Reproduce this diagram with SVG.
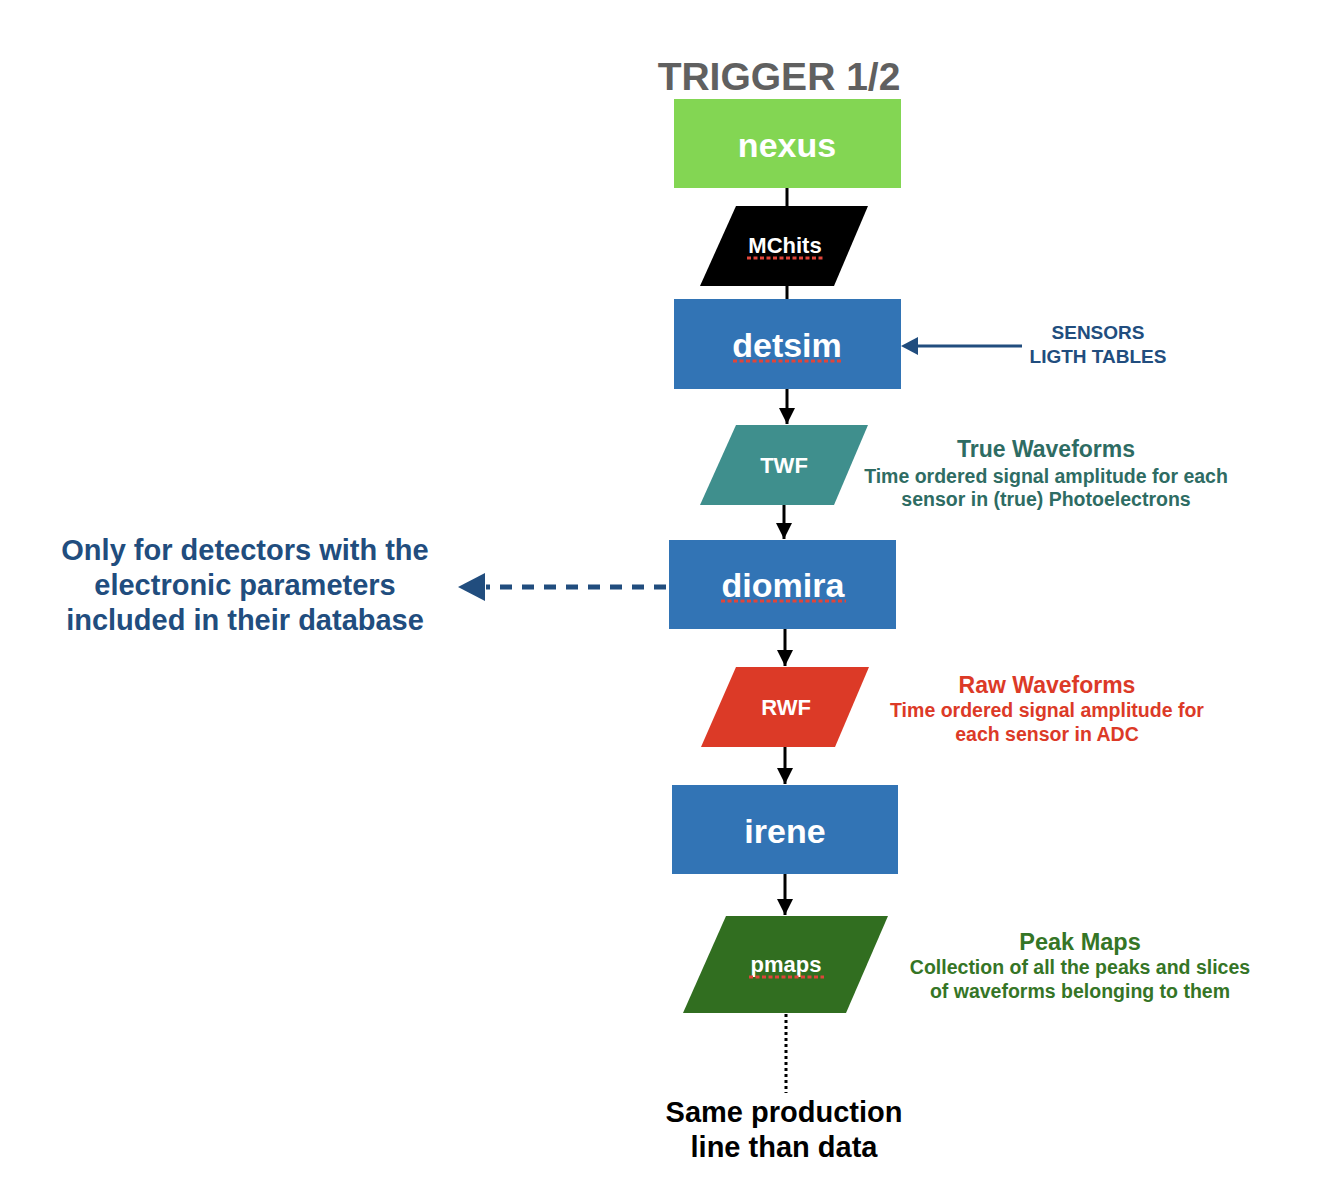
<svg xmlns="http://www.w3.org/2000/svg" width="1338" height="1196" viewBox="0 0 1338 1196">
  <style>
    text { font-family: "Liberation Sans", Arial, Helvetica, sans-serif; font-weight: bold; text-anchor: middle; }
    .proc { fill: #3274b5; }
    .label { fill: #ffffff; }
    .big { font-size: 34px; }
    .small { font-size: 22px; }
    .wire { stroke: #000000; stroke-width: 3; fill: none; }
    .squiggle { stroke: #e0453a; stroke-width: 3; stroke-dasharray: 4 2.5; fill: none; }
    .navy { fill: #214d7e; }
  </style>
  <defs>
    <marker id="arrow-black" viewBox="0 0 10 10" refX="10" refY="5" markerWidth="5.5" markerHeight="5.5" markerUnits="strokeWidth" orient="auto">
      <path d="M0,0 L10,5 L0,10 Z" fill="#000000"/>
    </marker>
  </defs>
  <rect width="1338" height="1196" fill="#ffffff"/>

  <!-- title -->
  <text x="779" y="90" font-size="39" fill="#606060">TRIGGER 1/2</text>

  <!-- connectors -->
  <g id="connectors">
    <line class="wire" x1="787" y1="188" x2="787" y2="206"/>
    <line class="wire" x1="787" y1="286" x2="787" y2="299"/>
    <line class="wire" x1="787" y1="389" x2="787" y2="424" marker-end="url(#arrow-black)"/>
    <line class="wire" x1="784" y1="505" x2="784" y2="539" marker-end="url(#arrow-black)"/>
    <line class="wire" x1="785" y1="629" x2="785" y2="666" marker-end="url(#arrow-black)"/>
    <line class="wire" x1="785" y1="747" x2="785" y2="784" marker-end="url(#arrow-black)"/>
    <line class="wire" x1="785" y1="874" x2="785" y2="915" marker-end="url(#arrow-black)"/>
    <!-- sensors / light tables input -->
    <line x1="1022" y1="346" x2="915" y2="346" stroke="#214d7e" stroke-width="3"/>
    <path d="M901,346 L918,337 L918,355 Z" fill="#214d7e"/>
    <!-- dashed link to the electronic-parameters note -->
    <line x1="666" y1="587" x2="486" y2="587" stroke="#214d7e" stroke-width="5" stroke-dasharray="12 10"/>
    <path d="M458,587 L485,573 L485,601 Z" fill="#214d7e"/>
    <!-- dotted continuation below pmaps -->
    <line x1="786" y1="1014" x2="786" y2="1093" stroke="#000000" stroke-width="3" stroke-dasharray="3 3"/>
  </g>

  <g id="nexus">
    <rect x="674" y="99" width="227" height="89" fill="#83d653"/>
    <text class="label big" x="787" y="157">nexus</text>
  </g>

  <g id="mchits">
    <polygon points="736,206 868,206 834,286 700,286" fill="#000000"/>
    <text class="label small" x="785" y="253">MChits</text>
    <line class="squiggle" x1="747" y1="258" x2="823" y2="258"/>
  </g>

  <g id="detsim">
    <rect class="proc" x="674" y="299" width="227" height="90"/>
    <text class="label big" x="787" y="357">detsim</text>
    <line class="squiggle" x1="733" y1="361" x2="842" y2="361"/>
  </g>

  <g id="sensors">
    <text class="navy" x="1098" y="339" font-size="19">SENSORS</text>
    <text class="navy" x="1098" y="363" font-size="19">LIGTH TABLES</text>
  </g>

  <g id="twf">
    <polygon points="736,425 868,425 834,505 700,505" fill="#3f8f8d"/>
    <text class="label small" x="784" y="473">TWF</text>
  </g>

  <g id="twf-note" fill="#2e6c63">
    <text x="1046" y="457" font-size="23">True Waveforms</text>
    <text x="1046" y="483" font-size="19.5">Time ordered signal amplitude for each</text>
    <text x="1046" y="506" font-size="19.5">sensor in (true) Photoelectrons</text>
  </g>

  <g id="diomira">
    <rect class="proc" x="669" y="540" width="227" height="89"/>
    <text class="label big" x="783" y="597">diomira</text>
    <line class="squiggle" x1="721" y1="601" x2="846" y2="601"/>
  </g>

  <g id="electronics-note" class="navy">
    <text x="245" y="560" font-size="29">Only for detectors with the</text>
    <text x="245" y="595" font-size="29">electronic parameters</text>
    <text x="245" y="630" font-size="29">included in their database</text>
  </g>

  <g id="rwf">
    <polygon points="736,667 869,667 835,747 701,747" fill="#dc3a27"/>
    <text class="label small" x="786" y="715">RWF</text>
  </g>

  <g id="rwf-note" fill="#dc3a27">
    <text x="1047" y="693" font-size="23">Raw Waveforms</text>
    <text x="1047" y="717" font-size="19.5">Time ordered signal amplitude for</text>
    <text x="1047" y="741" font-size="19.5">each sensor in ADC</text>
  </g>

  <g id="irene">
    <rect class="proc" x="672" y="785" width="226" height="89"/>
    <text class="label big" x="785" y="843">irene</text>
  </g>

  <g id="pmaps">
    <polygon points="726,916 888,916 846,1013 683,1013" fill="#316e20"/>
    <text class="label small" x="786" y="972">pmaps</text>
    <line class="squiggle" x1="749" y1="977" x2="824" y2="977"/>
  </g>

  <g id="pmaps-note" fill="#357526">
    <text x="1080" y="950" font-size="23.5">Peak Maps</text>
    <text x="1080" y="974" font-size="19.5">Collection of all the peaks and slices</text>
    <text x="1080" y="998" font-size="19.5">of waveforms belonging to them</text>
  </g>

  <g id="production-note" fill="#000000">
    <text x="784" y="1122" font-size="29">Same production</text>
    <text x="784" y="1157" font-size="29">line than data</text>
  </g>
</svg>
